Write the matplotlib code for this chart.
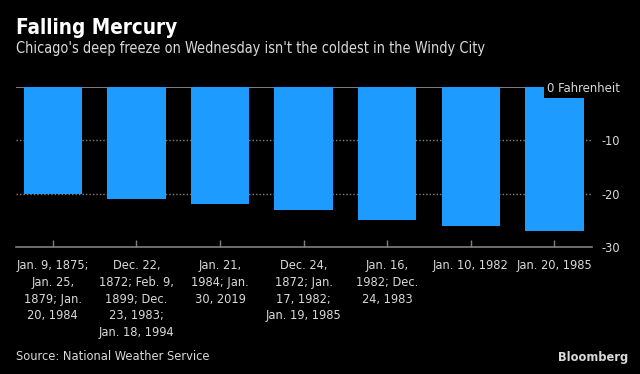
import matplotlib
matplotlib.use("Agg")
import matplotlib.pyplot as plt
import matplotlib.transforms as mtrans
from matplotlib.font_manager import FontProperties

categories = [
    "Jan. 9, 1875;\nJan. 25,\n1879; Jan.\n20, 1984",
    "Dec. 22,\n1872; Feb. 9,\n1899; Dec.\n23, 1983;\nJan. 18, 1994",
    "Jan. 21,\n1984; Jan.\n30, 2019",
    "Dec. 24,\n1872; Jan.\n17, 1982;\nJan. 19, 1985",
    "Jan. 16,\n1982; Dec.\n24, 1983",
    "Jan. 10, 1982",
    "Jan. 20, 1985",
]
values = [-20, -21, -22, -23, -25, -26, -27]
yticks = [0, -10, -20, -30]
ytick_labels = ["0 Fahrenheit", "-10", "-20", "-30"]

def fp(size, weight="normal"):
    return FontProperties(family="DejaVu Sans", stretch="condensed", weight=weight, size=size)

BG = "black"
BAR = "#1e9bff"
TXT = "#d9d9d9"
GRID = "#808080"

fig = plt.figure(figsize=(6.4, 3.74), dpi=100, facecolor=BG)
ax = fig.add_axes([0.025, 0.3396, 0.9, 0.4278], facecolor=BG)

x = list(range(len(values)))
ax.bar(x, values, width=0.7, color=BAR, zorder=2)
ax.set_xlim(-0.44, 6.45)
ax.set_ylim(-30, 0)

for s in ["top", "left", "right"]:
    ax.spines[s].set_visible(False)
ax.spines["bottom"].set_color(GRID)
ax.spines["bottom"].set_linewidth(1.2)

ax.axhline(0, color=GRID, lw=1.4, zorder=1)
for yv in [-10, -20]:
    ax.axhline(yv, color=GRID, lw=1.0, ls=(0, (1, 1.5)), zorder=1)

ax.set_xticks(x)
ax.set_xticklabels(categories, color=TXT, linespacing=1.36, va="top")
for lab in ax.get_xticklabels():
    lab.set_fontproperties(fp(9.2))
ax.tick_params(axis="x", direction="in", length=5, color=GRID, width=1, pad=9)

ax.yaxis.tick_right()
ax.set_yticks(yticks)
ax.set_yticklabels(ytick_labels, color=TXT)
ax.tick_params(axis="y", length=0, pad=0)
offset = mtrans.ScaledTranslation(28/100, 0, fig.dpi_scale_trans)
for i, lab in enumerate(ax.get_yticklabels()):
    lab.set_fontproperties(fp(9.4 if i == 0 else 9.2))
    lab.set_horizontalalignment("right")
    lab.set_transform(ax.get_yaxis_transform(which="tick2") + offset)
    lab.set_bbox(dict(facecolor=BG, edgecolor="none", pad=2.2))
    lab.set_zorder(5)
ax.get_yaxis().set_zorder(5)

fig.text(0.025, 0.926, "Falling Mercury", fontproperties=fp(14.9, "bold"),
         color="white", va="center", ha="left")
fig.text(0.025, 0.869, "Chicago's deep freeze on Wednesday isn't the coldest in the Windy City",
         fontproperties=fp(10.45), color=TXT, va="center", ha="left")
fig.text(0.025, 0.046, "Source: National Weather Service", fontproperties=fp(9.2),
         color=TXT, va="center", ha="left")
fig.text(0.981, 0.043, "Bloomberg", fontproperties=fp(9.2, "bold"),
         color=TXT, va="center", ha="right")

fig.savefig("out.png", dpi=100, facecolor=BG)
